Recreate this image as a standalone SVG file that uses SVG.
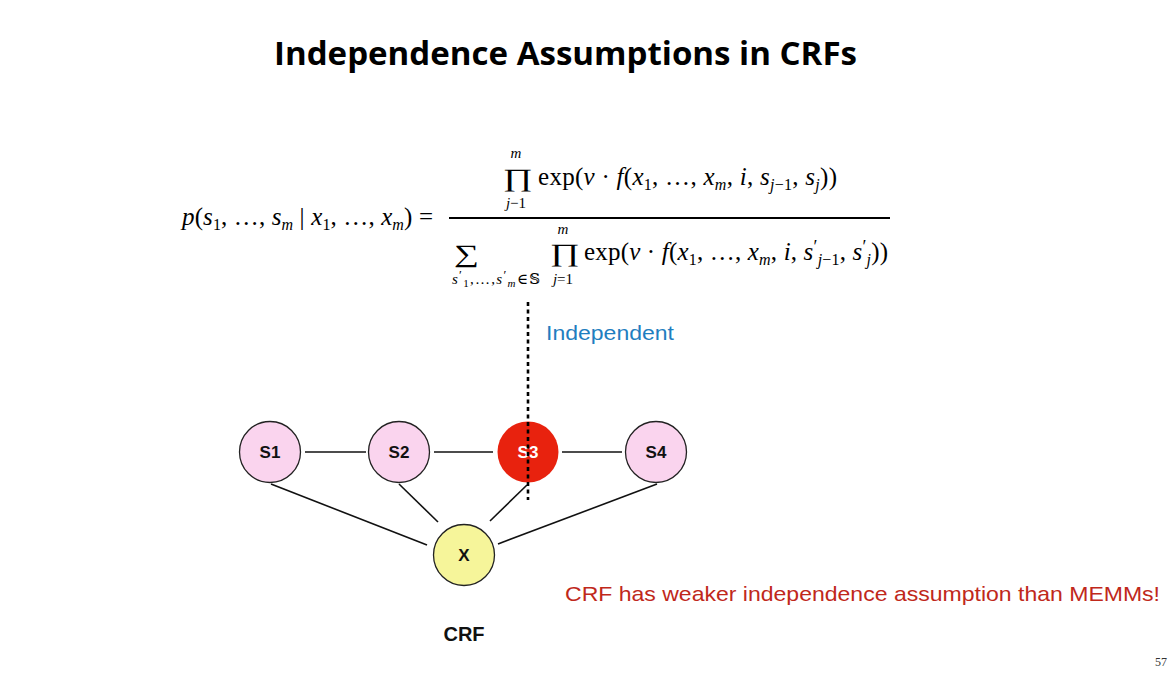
<svg xmlns="http://www.w3.org/2000/svg" width="1168" height="681" viewBox="0 0 1168 681">
<style>
.m{font-family:"Liberation Serif","DejaVu Serif",serif;font-size:25px;fill:#000}
.i{font-style:italic}
.sb{font-size:16px}
.pr{font-size:18px}
.op{font-family:"Liberation Serif","DejaVu Serif",serif;font-size:25px;fill:#000}
.lim{font-family:"Liberation Serif","DejaVu Serif",serif;font-size:15px;fill:#000}
.node{stroke:#222;stroke-width:1.3}
.lbl{font-family:"Liberation Sans",Arial,sans-serif;font-weight:bold;font-size:17px;text-anchor:middle;fill:#111}
.edge{stroke:#111;stroke-width:1.6;fill:none}
</style>
<rect width="1168" height="681" fill="#fff"/>
<text x="274" y="65" font-family="'Open Sans','DejaVu Sans',sans-serif" font-weight="bold" font-size="33" textLength="583" lengthAdjust="spacingAndGlyphs" fill="#000">Independence Assumptions in CRFs</text>

<g id="formula">
<text class="m" x="182" y="225" textLength="251" lengthAdjust="spacing"><tspan class="i">p</tspan>(<tspan class="i">s</tspan><tspan class="sb" dy="5">1</tspan><tspan dy="-5">, …, </tspan><tspan class="i">s</tspan><tspan class="sb i" dy="5">m</tspan><tspan dy="-5"> | </tspan><tspan class="i">x</tspan><tspan class="sb" dy="5">1</tspan><tspan dy="-5">, …, </tspan><tspan class="i">x</tspan><tspan class="sb i" dy="5">m</tspan><tspan dy="-5">) =</tspan></text>
<line x1="449" y1="218" x2="890" y2="218" stroke="#000" stroke-width="1.8"/>
<text class="op" transform="translate(503,186) scale(1.45,1)" x="0" y="0">∏</text>
<text class="lim i" x="516" y="158" text-anchor="middle">m</text>
<text class="lim" x="516" y="208" text-anchor="middle"><tspan class="i">j</tspan>−1</text>
<text class="m" x="538" y="185" textLength="299" lengthAdjust="spacing"><tspan>exp(</tspan><tspan class="i">v</tspan> · <tspan class="i">f</tspan>(<tspan class="i">x</tspan><tspan class="sb" dy="5">1</tspan><tspan dy="-5">, …, </tspan><tspan class="i">x</tspan><tspan class="sb i" dy="5">m</tspan><tspan dy="-5">, </tspan><tspan class="i">i</tspan>, <tspan class="i">s</tspan><tspan class="sb" dy="5"><tspan class="i">j</tspan>−1</tspan><tspan dy="-5">, </tspan><tspan class="i">s</tspan><tspan class="sb i" dy="5">j</tspan><tspan dy="-5">))</tspan></text>
<text class="op" transform="translate(454,262) scale(1.4,1)" x="0" y="0">∑</text>
<text class="lim" x="452" y="284" textLength="88" lengthAdjust="spacing"><tspan class="i">s</tspan><tspan font-size="13" dy="-5">′</tspan><tspan font-size="11" dy="8">1</tspan><tspan dy="-3">,…,</tspan><tspan class="i">s</tspan><tspan font-size="13" dy="-5">′</tspan><tspan class="i" font-size="11" dy="8">m</tspan><tspan dy="-3">∈𝕊</tspan></text>
<text class="op" transform="translate(550,261) scale(1.45,1)" x="0" y="0">∏</text>
<text class="lim i" x="563" y="234" text-anchor="middle">m</text>
<text class="lim" x="563" y="284" text-anchor="middle"><tspan class="i">j</tspan>=1</text>
<text class="m" x="584" y="260" textLength="304" lengthAdjust="spacing"><tspan>exp(</tspan><tspan class="i">v</tspan> · <tspan class="i">f</tspan>(<tspan class="i">x</tspan><tspan class="sb" dy="5">1</tspan><tspan dy="-5">, …, </tspan><tspan class="i">x</tspan><tspan class="sb i" dy="5">m</tspan><tspan dy="-5">, </tspan><tspan class="i">i</tspan>, <tspan class="i">s</tspan><tspan class="pr" dy="-7">′</tspan><tspan class="sb" dy="12"><tspan class="i">j</tspan>−1</tspan><tspan dy="-5">, </tspan><tspan class="i">s</tspan><tspan class="pr" dy="-7">′</tspan><tspan class="sb i" dy="12">j</tspan><tspan dy="-5">))</tspan></text>
</g>

<g id="connectors">
<line class="edge" x1="305" y1="452" x2="366" y2="452"/>
<line class="edge" x1="434" y1="452" x2="493" y2="452"/>
<line class="edge" x1="562" y1="452" x2="622" y2="452"/>
<line class="edge" x1="271" y1="484" x2="427" y2="545"/>
<line class="edge" x1="399" y1="484" x2="438" y2="522"/>
<line class="edge" x1="490" y1="521" x2="527" y2="485"/>
<line class="edge" x1="657" y1="484" x2="498" y2="544"/>
</g>

<g id="S1"><circle class="node" cx="270" cy="452" r="30.5" fill="#FAD4EE"/><text class="lbl" x="270" y="458">S1</text></g>
<g id="S2"><circle class="node" cx="399" cy="452" r="30.5" fill="#FAD4EE"/><text class="lbl" x="399" y="458">S2</text></g>
<g id="S3"><circle cx="528" cy="452" r="30.5" fill="#E8220E"/><text class="lbl" x="528" y="458" style="fill:#fff">S3</text></g>
<g id="S4"><circle class="node" cx="656" cy="452" r="30.5" fill="#FAD4EE"/><text class="lbl" x="656" y="458">S4</text></g>
<g id="X"><circle class="node" cx="464" cy="555" r="30.5" fill="#F6F59A"/><text class="lbl" x="464" y="561">X</text></g>

<g id="divider"><line x1="528" y1="302" x2="528" y2="500" stroke="#000" stroke-width="2.6" stroke-dasharray="4,3.5"/></g>
<text x="546" y="340" font-family="'Liberation Sans',Arial,sans-serif" font-size="21" textLength="128" lengthAdjust="spacingAndGlyphs" fill="#1F7EC0">Independent</text>

<text x="464" y="641" class="lbl" style="font-size:20px">CRF</text>
<text x="565" y="601" font-family="'Liberation Sans',Arial,sans-serif" font-size="21" textLength="595" lengthAdjust="spacingAndGlyphs" fill="#C0281B">CRF has weaker independence assumption than MEMMs!</text>
<text x="1167" y="666" font-family="'Liberation Serif',serif" font-size="12" text-anchor="end" fill="#333">57</text>
</svg>
